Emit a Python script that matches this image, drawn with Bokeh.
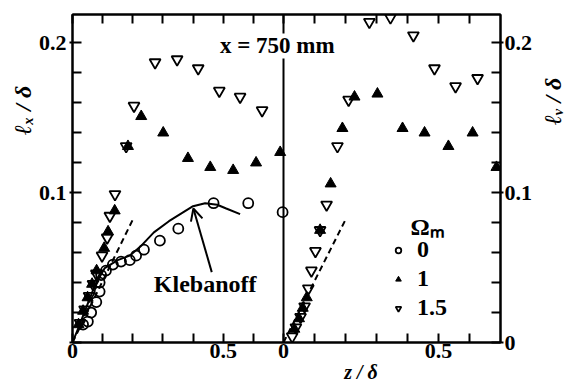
import math
from bokeh.plotting import figure
from bokeh.models import (Range1d, LinearAxis, FixedTicker, Span, Label, Arrow,
                          OpenHead, Legend, LegendItem)
from bokeh.embed import file_html
from bokeh.resources import INLINE

# ---------------- data ----------------
# Left panel: l_x / delta  vs  z / delta
left_o_x = [0.035, 0.051, 0.062, 0.079, 0.09, 0.09, 0.095, 0.111, 0.134, 0.161, 0.19, 0.211, 0.237, 0.29, 0.351, 0.468, 0.583, 0.697]
left_o_y = [0.012, 0.014, 0.020, 0.027, 0.034, 0.040, 0.045, 0.048, 0.052, 0.054, 0.055, 0.058, 0.062, 0.068, 0.076, 0.093, 0.093, 0.087]

left_t_x = [0.02, 0.035, 0.05, 0.065, 0.08, 0.105, 0.118, 0.14, 0.184, 0.228, 0.301, 0.383, 0.457, 0.533, 0.609, 0.689]
left_t_y = [0.012, 0.021, 0.030, 0.039, 0.048, 0.063, 0.074, 0.088, 0.131, 0.151, 0.140, 0.123, 0.117, 0.115, 0.120, 0.127]

left_v_x = [0.025, 0.04, 0.055, 0.068, 0.079, 0.098, 0.115, 0.124, 0.141, 0.178, 0.204, 0.274, 0.347, 0.417, 0.487, 0.556, 0.629]
left_v_y = [0.013, 0.022, 0.031, 0.039, 0.046, 0.058, 0.070, 0.0845, 0.099, 0.131, 0.158, 0.187, 0.189, 0.183, 0.168, 0.164, 0.155]

# Right panel: l_v / delta  vs  z / delta
right_t_x = [0.035, 0.05, 0.062, 0.075, 0.118, 0.152, 0.19, 0.229, 0.303, 0.384, 0.455, 0.532, 0.61, 0.687]
right_t_y = [0.009, 0.016, 0.023, 0.030, 0.075, 0.106, 0.143, 0.164, 0.166, 0.143, 0.140, 0.131, 0.140, 0.117]

right_v_x = [0.028, 0.04, 0.055, 0.068, 0.08, 0.09, 0.103, 0.118, 0.139, 0.174, 0.21, 0.277, 0.345, 0.419, 0.487, 0.555, 0.626]
right_v_y = [0.004, 0.010, 0.017, 0.024, 0.036, 0.048, 0.061, 0.075, 0.092, 0.131, 0.162, 0.214, 0.217, 0.205, 0.183, 0.171, 0.1765]

# Klebanoff curve (left panel)
kleb_x = [0, 0.02, 0.04, 0.074, 0.107, 0.15, 0.19, 0.23, 0.27, 0.32, 0.36, 0.40, 0.44, 0.48, 0.51, 0.556]
kleb_y = [0, 0.010, 0.0205, 0.038, 0.0497, 0.055, 0.058, 0.065, 0.0735, 0.081, 0.086, 0.091, 0.093, 0.092, 0.0895, 0.0857]

# dashed mixing-length line (both panels)
kappa_x = [0, 0.2]
kappa_y = [0, 0.082]

# axes
panel_span = 0.7
x_tick_steps = [0, 0.1, 0.2, 0.3, 0.4, 0.5, 0.6]
x_tick_labels = {0: "0", 0.5: "0.5"}
y_major = [0, 0.1, 0.2]
y_minor = [0.02, 0.04, 0.06, 0.08, 0.12, 0.14, 0.16, 0.18]
y_max = 0.219

legend_title = "Ωₘ"
legend_labels = ["0", "1", "1.5"]

FONT = "Liberation Serif"
INK = "black"

# layout: frame is 428 px wide, left panel 211 px, right panel 217 px
FRAME_W, LEFT_W, RIGHT_W = 428, 211, 217
left_range = Range1d(0, panel_span * FRAME_W / LEFT_W)
right_range = Range1d(panel_span - panel_span * FRAME_W / RIGHT_W, panel_span)

# ---------------- figure ----------------
p = figure(width=570, height=382, output_backend="svg", toolbar_location=None,
           title=None, x_range=left_range, y_range=Range1d(0, y_max),
           min_border_left=72, min_border_right=70, min_border_top=14, min_border_bottom=40)
p.extra_x_ranges = {"right": right_range}
p.xgrid.visible = False
p.ygrid.visible = False
p.outline_line_color = INK
p.outline_line_width = 2
p.background_fill_color = "white"
p.border_fill_color = "white"


def right_to_left(z):
    """position of a right-panel z value in the left panel's (default) coordinates"""
    f = (z - right_range.start) / (right_range.end - right_range.start)
    return left_range.start + f * (left_range.end - left_range.start)


# bottom ticks for both panels
bottom_ticks = []
overrides = {}
for conv in (lambda t: t, right_to_left):
    for t in x_tick_steps:
        v = round(conv(t), 6)
        bottom_ticks.append(v)
        overrides[v] = x_tick_labels.get(t, "")


def style_axis(ax):
    ax.axis_line_width = 2
    ax.axis_line_color = INK
    ax.major_tick_line_width = 2
    ax.minor_tick_line_width = 2
    ax.major_tick_in = 9
    ax.major_tick_out = 3
    ax.minor_tick_in = 9
    ax.minor_tick_out = 0
    ax.major_label_text_font = FONT
    ax.major_label_text_font_style = "bold"
    ax.major_label_text_font_size = "22px"
    ax.major_label_text_color = INK


xb = p.xaxis[0]
xb.ticker = FixedTicker(ticks=bottom_ticks)
xb.major_label_overrides = overrides
style_axis(xb)
xb.major_tick_out = 0
xb.major_label_standoff = 1

xt = LinearAxis(ticker=FixedTicker(ticks=bottom_ticks))
style_axis(xt)
xt.major_tick_out = 0
xt.major_label_standoff = 0
xt.major_label_text_font_size = "0px"
p.add_layout(xt, "above")

yl = p.yaxis[0]
yl.ticker = FixedTicker(ticks=y_major, minor_ticks=y_minor)
yl.major_label_overrides = {0: ""}
style_axis(yl)
yl.major_label_standoff = 3

yr = LinearAxis(ticker=FixedTicker(ticks=y_major, minor_ticks=y_minor))
style_axis(yr)
yr.major_label_standoff = 1
p.add_layout(yr, "right")

# divider between the panels
p.add_layout(Span(location=panel_span, dimension="height", line_color=INK, line_width=2))

# ---------------- glyphs ----------------
p.line(kleb_x, kleb_y, line_color=INK, line_width=2)
p.line(kappa_x, kappa_y, line_color=INK, line_width=2, line_dash="6 4")
p.line(kappa_x, kappa_y, line_color=INK, line_width=2, line_dash="6 4", x_range_name="right")

r_o = p.scatter(left_o_x, left_o_y, marker="circle", size=10, fill_color=None,
                line_color=INK, line_width=1.8)
r_t = p.scatter(left_t_x, left_t_y, marker="triangle", size=11, fill_color=INK,
                line_color=INK, line_width=1)
r_v = p.scatter(left_v_x, left_v_y, marker="inverted_triangle", size=11, fill_color=None,
                line_color=INK, line_width=1.8)
p.scatter(right_t_x, right_t_y, marker="triangle", size=11, fill_color=INK,
          line_color=INK, line_width=1, x_range_name="right")
p.scatter(right_v_x, right_v_y, marker="inverted_triangle", size=11, fill_color=None,
          line_color=INK, line_width=1.8, x_range_name="right")

# ---------------- annotations ----------------
p.add_layout(Arrow(end=OpenHead(size=12, line_width=2, line_color=INK),
                   x_start=0.462, y_start=0.047, x_end=0.401, y_end=0.0895,
                   line_width=2, line_color=INK))

p.add_layout(Label(x=0.44, y=0.0393, text="Klebanoff", text_font=FONT,
                   text_font_style="bold", text_font_size="24px", text_color=INK,
                   text_align="center", text_baseline="middle"))

p.add_layout(Label(x=-0.02, y=0.198, x_range_name="right", text="x = 750 mm",
                   text_font=FONT, text_font_style="bold", text_font_size="23px",
                   text_color=INK, text_align="center", text_baseline="middle",
                   background_fill_color="white"))

# legend heading
p.add_layout(Label(x=0.465, y=0.0768, x_range_name="right", text=legend_title,
                   text_font=FONT, text_font_style="bold", text_font_size="24px",
                   text_color=INK, text_align="center", text_baseline="middle"))

# axis titles live in the side panels so that they are not clipped to the frame
p.add_layout(Label(x=-0.163, y=0.155, text="ℓₓ / δ", text_font=FONT,
                   text_font_style="bold italic", text_font_size="24px", text_color=INK,
                   text_align="center", text_baseline="middle", angle=math.pi / 2), "left")
p.add_layout(Label(x=0.87, y=0.161, x_range_name="right", text="ℓᵥ / δ", text_font=FONT,
                   text_font_style="bold italic", text_font_size="24px", text_color=INK,
                   text_align="center", text_baseline="middle", angle=math.pi / 2), "right")
p.add_layout(Label(x=0.25, y=-0.02, x_range_name="right", text="z / δ", text_font=FONT,
                   text_font_style="bold italic", text_font_size="20px", text_color=INK,
                   text_align="center", text_baseline="middle"), "below")

legend = Legend(items=[LegendItem(label=legend_labels[0], renderers=[r_o]),
                       LegendItem(label=legend_labels[1], renderers=[r_t]),
                       LegendItem(label=legend_labels[2], renderers=[r_v])],
                location=(319, 21),
                label_text_font=FONT, label_text_font_size="24px",
                label_text_font_style="bold", label_text_color=INK,
                border_line_color=None, background_fill_alpha=0,
                padding=0, margin=0, spacing=2, glyph_width=14, glyph_height=14,
                label_standoff=12)
p.add_layout(legend)

open("out.html", "w").write(file_html(p, INLINE))
